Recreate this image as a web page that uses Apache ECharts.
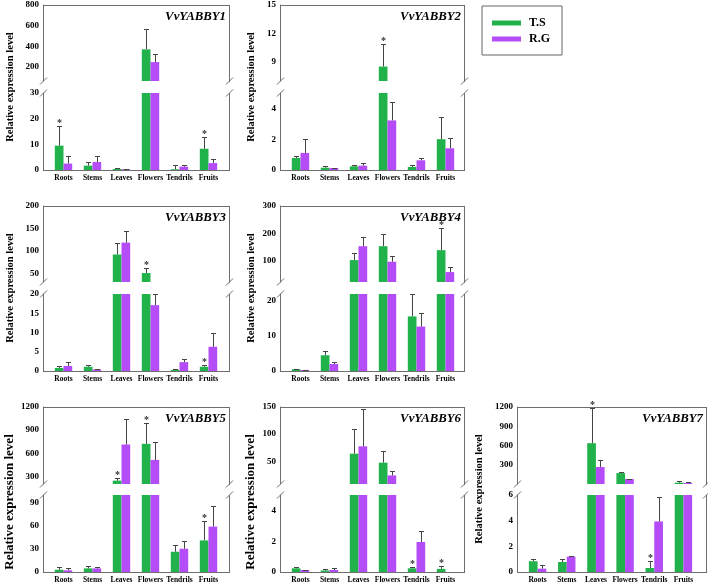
<!DOCTYPE html>
<html><head><meta charset="utf-8">
<script src="https://cdn.jsdelivr.net/npm/echarts@6/dist/echarts.min.js"></script>
<style>html,body{margin:0;padding:0;background:#fff}#c{width:708px;height:584px}</style>
</head><body><div id="c"></div>
<script>
// ---------------- DATA ----------------
const categories = ['Roots', 'Stems', 'Leaves', 'Flowers', 'Tendrils', 'Fruits'];
const seriesNames = ['T.S', 'R.G'];
const geneNames = ['VvYABBY1', 'VvYABBY2', 'VvYABBY3', 'VvYABBY4', 'VvYABBY5', 'VvYABBY6', 'VvYABBY7'];
const yTitle = 'Relative expression level';

// VvYABBY1
const ts1 = [9.5, 1.7, 0.4, 371, 0.3, 8.3];
const ts1Sd = [7.6, 1.3, 0.5, 200, 1.5, 4.4];
const rg1 = [2.5, 3.1, 0.3, 248, 1.3, 2.7];
const rg1Sd = [2.8, 2.5, 0.2, 75, 0.8, 1.5];
const sig1 = [1, 0, 0, 0, 0, 1];
const up1 = [65, 800], upTicks1 = [200, 400, 600, 800];
const lo1 = [0, 30], loTicks1 = [0, 10, 20, 30];
// VvYABBY2
const ts2 = [0.78, 0.15, 0.24, 8.52, 0.2, 2.0];
const ts2Sd = [0.13, 0.09, 0.06, 2.34, 0.1, 1.41];
const rg2 = [1.11, 0.13, 0.28, 3.22, 0.63, 1.41];
const rg2Sd = [0.89, 0.02, 0.2, 1.21, 0.15, 0.68];
const sig2 = [0, 0, 0, 1, 0, 0];
const up2 = [7, 15], upTicks2 = [9, 12, 15];
const lo2 = [0, 5], loTicks2 = [0, 2, 4];
// VvYABBY3
const ts3 = [0.8, 1.1, 92.6, 51.5, 0.3, 1.1];
const ts3Sd = [0.4, 0.5, 26.4, 10.5, 0.2, 0.5];
const rg3 = [1.3, 0.4, 119, 17.1, 2.3, 6.3];
const rg3Sd = [1.0, 0.2, 25.6, 2.9, 0.7, 3.5];
const sig3 = [0, 0, 0, 1, 0, 1];
const up3 = [31.7, 200], upTicks3 = [50, 100, 150, 200];
const lo3 = [0, 20], loTicks3 = [0, 5, 10, 15, 20];
// VvYABBY4
const ts4 = [0.5, 4.5, 103.6, 154, 15.6, 139.8];
const ts4Sd = [0.2, 1.25, 27.4, 46, 6.3, 80.7];
const rg4 = [0.3, 2.0, 154, 97.6, 12.7, 60];
const rg4Sd = [0.1, 0.5, 34, 20.4, 3.8, 19.5];
const sig4 = [0, 0, 0, 0, 0, 1];
const up4 = [24, 300], upTicks4 = [100, 200, 300];
const lo4 = [0, 22], loTicks4 = [0, 10, 20];
// VvYABBY5
const ts5 = [3, 4.7, 244, 722, 26.3, 41];
const ts5Sd = [3, 3.1, 39, 273, 9, 25];
const rg5 = [2.2, 4.7, 713, 513, 30.2, 59];
const rg5Sd = [2.5, 2.2, 330, 234, 9.8, 26.8];
const sig5 = [0, 0, 1, 1, 0, 1];
const up5 = [200, 1200], upTicks5 = [300, 600, 900, 1200];
const lo5 = [0, 100], loTicks5 = [0, 30, 60, 90];
// VvYABBY6
const ts6 = [0.24, 0.1, 64, 47.5, 0.24, 0.2];
const ts6Sd = [0.11, 0.07, 45, 21.5, 0.06, 0.19];
const rg6 = [0.13, 0.13, 77.6, 24, 1.95, 0];
const rg6Sd = [0.02, 0.11, 68, 8, 0.71, 0];
const sig6 = [0, 0, 0, 0, 1, 1];
const up6 = [8.2, 150], upTicks6 = [50, 100, 150];
const lo6 = [0, 5], loTicks6 = [0, 2, 4];
// VvYABBY7
const ts7 = [0.84, 0.78, 636, 170, 0.31, 21];
const ts7Sd = [0.18, 0.21, 548, 16, 0.58, 31];
const rg7 = [0.26, 1.2, 264, 78, 3.94, 16];
const rg7Sd = [0.29, 0.08, 104, 5, 1.88, 20];
const sig7 = [0, 0, 1, 0, 1, 0];
const up7 = [0, 1200], upTicks7 = [300, 600, 900, 1200];
const lo7 = [0, 6], loTicks7 = [0, 2, 4, 6];

// ---------------- LAYOUT / STYLE ----------------
const FONT = '"Times New Roman","Liberation Serif",serif';
const GREEN = '#22b24c', PURPLE = '#b44cf7', FRAME = '#6e6e6e', ERR = '#454545';
const BAR_W = 8.7;
const COLS = [
  { fl: 43, fr: 229, cl: 49, cr: 223, nameX: 10 },
  { fl: 280, fr: 464, cl: 286, cr: 460, nameX: 251 },
  { fl: 517, fr: 706, cl: 523, cr: 698, nameX: 479 }
];
const ROWS = [
  { ut: 5, ub: 81, lt: 93, lb: 170 },
  { ut: 206, ub: 282, lt: 294, lb: 371 },
  { ut: 407, ub: 484, lt: 495, lb: 572 }
];
const PLACE = [
  { col: 0, row: 0, nameSize: 10.5, nameY: 87 },
  { col: 1, row: 0, nameSize: 10.5, nameY: 87 },
  { col: 0, row: 1, nameSize: 10.5, nameY: 288 },
  { col: 1, row: 1, nameSize: 10.5, nameY: 288 },
  { col: 0, row: 2, nameSize: 13, nameY: 502 },
  { col: 1, row: 2, nameSize: 13, nameY: 502 },
  { col: 2, row: 2, nameSize: 10.5, nameY: 489 }
];

const panels = [
  { ts: ts1, tsSd: ts1Sd, rg: rg1, rgSd: rg1Sd, sig: sig1, up: up1, upTicks: upTicks1, lo: lo1, loTicks: loTicks1 },
  { ts: ts2, tsSd: ts2Sd, rg: rg2, rgSd: rg2Sd, sig: sig2, up: up2, upTicks: upTicks2, lo: lo2, loTicks: loTicks2 },
  { ts: ts3, tsSd: ts3Sd, rg: rg3, rgSd: rg3Sd, sig: sig3, up: up3, upTicks: upTicks3, lo: lo3, loTicks: loTicks3 },
  { ts: ts4, tsSd: ts4Sd, rg: rg4, rgSd: rg4Sd, sig: sig4, up: up4, upTicks: upTicks4, lo: lo4, loTicks: loTicks4 },
  { ts: ts5, tsSd: ts5Sd, rg: rg5, rgSd: rg5Sd, sig: sig5, up: up5, upTicks: upTicks5, lo: lo5, loTicks: loTicks5 },
  { ts: ts6, tsSd: ts6Sd, rg: rg6, rgSd: rg6Sd, sig: sig6, up: up6, upTicks: upTicks6, lo: lo6, loTicks: loTicks6 },
  { ts: ts7, tsSd: ts7Sd, rg: rg7, rgSd: rg7Sd, sig: sig7, up: up7, upTicks: upTicks7, lo: lo7, loTicks: loTicks7 }
];

const grids = [], xAxes = [], yAxes = [], series = [], graphics = [];
const lineStyle = { stroke: FRAME, lineWidth: 1 };
function hline(x1, x2, y) { graphics.push({ type: 'line', silent: true, shape: { x1: x1, y1: y + 0.5, x2: x2 + 1, y2: y + 0.5 }, style: lineStyle }); }
function vline(x, y1, y2) { graphics.push({ type: 'line', silent: true, shape: { x1: x + 0.5, y1: y1, x2: x + 0.5, y2: y2 + 1 }, style: lineStyle }); }
function slash(x, y) { graphics.push({ type: 'line', silent: true, shape: { x1: x + 0.5 - 3.5, y1: y + 3.5, x2: x + 0.5 + 3.5, y2: y - 3.5 }, style: lineStyle }); }

function errSeries(gi, p, segMin, isLower) {
  const data = [];
  categories.forEach((c, i) => {
    data.push([i, p.ts[i], p.tsSd[i], p.sig[i], -1]);
    data.push([i, p.rg[i], p.rgSd[i], 0, 1]);
  });
  const loMax = p.lo[1];
  return {
    type: 'custom', xAxisIndex: gi, yAxisIndex: gi, silent: true, z: 5,
    data: data,
    renderItem: function (params, api) {
      const c = api.value(0), v = api.value(1), sd = api.value(2), s = api.value(3), side = api.value(4);
      const top = v + sd;
      const inSeg = isLower ? top <= loMax : top > loMax;
      if (!inSeg) return null;
      const pb = api.coord([c, Math.max(v, segMin)]);
      const pc = api.coord([c, top]);
      const x = Math.round(pb[0] + side * BAR_W / 2) + 0.5;
      const cy = Math.round(pc[1]) + 0.5;
      const children = [];
      if (sd > 0) {
        children.push({ type: 'line', shape: { x1: x, y1: pb[1], x2: x, y2: cy }, style: { stroke: ERR, lineWidth: 1 } });
        children.push({ type: 'line', shape: { x1: x - 2.5, y1: cy, x2: x + 2.5, y2: cy }, style: { stroke: ERR, lineWidth: 1 } });
      }
      if (s) {
        children.push({ type: 'text', x: x, y: cy - 3, style: { text: '*', fill: '#333', font: 'bold 10px ' + FONT, align: 'center', verticalAlign: 'middle', textAlign: 'center', textVerticalAlign: 'middle' } });
      }
      return { type: 'group', children: children };
    }
  };
}

panels.forEach((p, k) => {
  const col = COLS[PLACE[k].col], row = ROWS[PLACE[k].row];
  const segs = [
    { top: row.ut, bot: row.ub, range: p.up, ticks: p.upTicks, lower: false },
    { top: row.lt, bot: row.lb, range: p.lo, ticks: p.loTicks, lower: true }
  ];
  segs.forEach((s) => {
    const gi = grids.length;
    grids.push({ left: col.cl, width: col.cr - col.cl, top: s.top, height: s.bot - s.top });
    xAxes.push({
      type: 'category', gridIndex: gi, data: categories,
      axisLine: { show: false }, axisTick: { show: false },
      axisLabel: { show: s.lower, interval: 0, margin: 4, fontFamily: FONT, fontWeight: 'bold', fontSize: 7.5, color: '#000' }
    });
    yAxes.push({
      type: 'value', gridIndex: gi, min: s.range[0], max: s.range[1], offset: col.cl - col.fl,
      axisLine: { show: true, lineStyle: { color: FRAME, width: 1 } },
      axisTick: { show: false }, splitLine: { show: false },
      axisLabel: { customValues: s.ticks, formatter: (v) => String(v), margin: 4, fontFamily: FONT, fontWeight: 'bold', fontSize: 9, color: '#000' }
    });
    const loMax = p.lo[1];
    const tsData = s.lower ? p.ts : p.ts.map(v => (v > loMax ? v : '-'));
    const rgData = s.lower ? p.rg : p.rg.map(v => (v > loMax ? v : '-'));
    series.push({ type: 'bar', name: seriesNames[0], xAxisIndex: gi, yAxisIndex: gi, data: tsData, barWidth: BAR_W, barGap: '0%', clip: true, itemStyle: { color: GREEN }, silent: true });
    series.push({ type: 'bar', name: seriesNames[1], xAxisIndex: gi, yAxisIndex: gi, data: rgData, barWidth: BAR_W, barGap: '0%', clip: true, itemStyle: { color: PURPLE }, silent: true });
    series.push(errSeries(gi, p, s.range[0], s.lower));
  });
  // frame
  hline(col.fl, col.fr, row.ut);
  hline(col.fl, col.fr, row.lb);
  vline(col.fr, row.ut, row.ub);
  vline(col.fr, row.lt, row.lb);
  slash(col.fl, row.ub); slash(col.fl, row.lt);
  slash(col.fr, row.ub); slash(col.fr, row.lt);
  // gene title
  graphics.push({ type: 'text', silent: true, x: col.fr - 3, y: row.ut + 12,
    style: { text: geneNames[k], fill: '#000', font: 'italic bold 12.8px ' + FONT, align: 'right', verticalAlign: 'middle', textAlign: 'right', textVerticalAlign: 'middle' } });
  // y axis title
  graphics.push({ type: 'text', silent: true, x: col.nameX, y: PLACE[k].nameY, rotation: Math.PI / 2,
    style: { text: yTitle, fill: '#000', font: 'bold ' + PLACE[k].nameSize + 'px ' + FONT, align: 'center', verticalAlign: 'middle', textAlign: 'center', textVerticalAlign: 'middle' } });
});

const chart = echarts.init(document.getElementById('c'), null, { renderer: 'canvas' });
chart.setOption({
  animation: false,
  backgroundColor: '#fff',
  legend: {
    data: seriesNames, orient: 'vertical', left: 482, top: 6,
    padding: [9, 12, 8, 10], itemGap: 0, itemWidth: 29, itemHeight: 5, icon: 'rect',
    borderColor: '#666', borderWidth: 1, selectedMode: false,
    textStyle: { fontFamily: FONT, fontWeight: 'bold', fontSize: 12, color: '#000', lineHeight: 16, padding: [0, 0, 0, 3] }
  },
  grid: grids, xAxis: xAxes, yAxis: yAxes, series: series,
  graphic: { elements: graphics }
});
</script></body></html>
